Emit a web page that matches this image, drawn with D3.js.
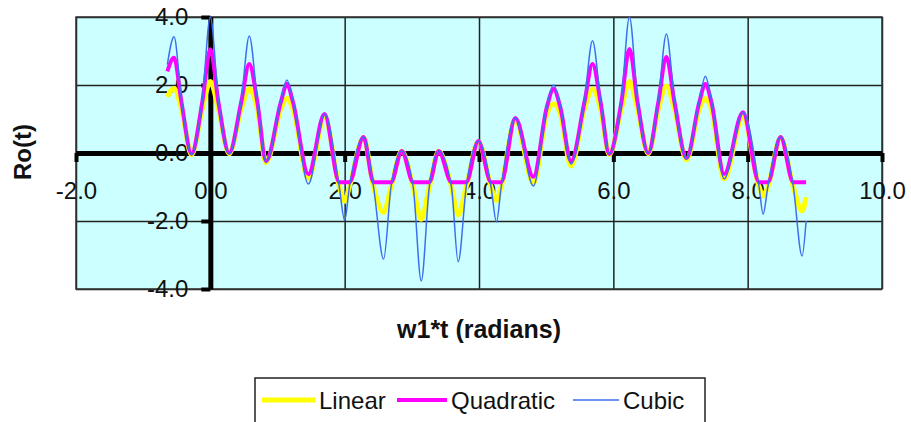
<!DOCTYPE html>
<html>
<head>
<meta charset="utf-8">
<script src="https://cdn.jsdelivr.net/npm/d3@7"></script>
<style>
  body { margin: 0; background: #fff; }
  svg text { font-family: "Liberation Sans", Arial, sans-serif; fill: #111; }
</style>
</head>
<body>
<div id="chart"></div>
<script>
// w1*t values (peaks, troughs and the points where the curves split)
const tVals = [-0.64, -0.54, -0.43, -0.28, -0.12, 0.00, 0.12, 0.28, 0.46, 0.58,
               0.70, 0.83, 1.05, 1.14, 1.23, 1.46, 1.70, 1.92, 2.00, 2.07,
               2.28, 2.43, 2.58, 2.69, 2.85, 3.02, 3.14, 3.26, 3.40, 3.59,
               3.69, 3.81, 3.99, 4.18, 4.26, 4.33, 4.54, 4.81, 5.01, 5.11,
               5.21, 5.37, 5.57, 5.69, 5.81, 5.94, 6.12, 6.24, 6.36, 6.52,
               6.67, 6.79, 6.91, 7.09, 7.28, 7.37, 7.46, 7.65, 7.93, 8.17,
               8.23, 8.30, 8.49, 8.68, 8.81, 8.87];

const linearVals = [1.65, 1.90, 1.30, -0.05, 1.30, 2.10, 1.30, -0.02, 1.30, 1.88,
                    1.30, -0.28, 1.30, 1.60, 1.30, -0.75, 1.05, -1.00, -1.42, -1.00,
                    0.45, -1.00, -1.75, -1.00, 0.05, -1.00, -1.95, -1.00, 0.05, -1.00,
                    -1.82, -1.00, 0.33, -1.00, -1.40, -1.00, 0.98, -0.90, 1.15, 1.44,
                    1.15, -0.38, 1.30, 1.88, 1.30, -0.05, 1.30, 2.10, 1.30, -0.02,
                    1.30, 1.97, 1.30, -0.20, 1.30, 1.60, 1.30, -0.76, 1.05, -1.00,
                    -1.26, -1.00, 0.45, -1.00, -1.70, -1.30];

const quadraticVals = [2.40, 2.80, 1.50, -0.02, 1.50, 3.05, 1.50, 0.00, 1.50, 2.62,
                       1.50, -0.24, 1.50, 2.03, 1.50, -0.62, 1.15, -0.86, -0.86, -0.86,
                       0.47, -0.86, -0.86, -0.86, 0.06, -0.86, -0.86, -0.86, 0.06, -0.86,
                       -0.86, -0.86, 0.35, -0.86, -0.86, -0.86, 1.03, -0.70, 1.35, 1.88,
                       1.35, -0.24, 1.50, 2.62, 1.50, -0.03, 1.50, 3.06, 1.50, 0.00,
                       1.50, 2.82, 1.50, -0.15, 1.50, 2.03, 1.50, -0.62, 1.20, -0.86,
                       -0.86, -0.86, 0.47, -0.86, -0.86, -0.86];

const cubicVals = [2.60, 3.42, 1.55, -0.05, 1.55, 4.00, 1.55, -0.02, 1.55, 3.44,
                   1.55, -0.28, 1.55, 2.15, 1.55, -0.91, 1.15, -1.00, -1.98, -1.00,
                   0.47, -1.00, -3.12, -1.00, 0.06, -1.00, -3.76, -1.00, 0.06, -1.00,
                   -3.20, -1.00, 0.35, -1.00, -2.03, -1.00, 1.03, -0.97, 1.40, 2.00,
                   1.40, -0.32, 1.55, 3.30, 1.55, -0.03, 1.55, 4.00, 1.55, 0.00,
                   1.55, 3.50, 1.55, -0.18, 1.55, 2.26, 1.55, -0.76, 1.20, -1.00,
                   -1.80, -1.00, 0.47, -1.00, -3.03, -2.00];

const seriesNames = ["Linear", "Quadratic", "Cubic"];
const xTicks = [-2, 0, 2, 4, 6, 8, 10];
const yTicks = [-4, -2, 0, 2, 4];

const W = 911, H = 422;
const plot = {left: 76, right: 882, top: 17, bottom: 289};
const fontSize = 24;
const colors = {Linear: "#ffff00", Quadratic: "#ff00ff", Cubic: "#3d6ef0"};
const widths = {Linear: 5, Quadratic: 4, Cubic: 1.5};

const svg = d3.select("#chart")
              .append("svg")
              .attr("width", W)
              .attr("height", H);

const xScale = d3.scaleLinear().domain([-2, 10]).range([plot.left, plot.right]);
const yScale = d3.scaleLinear().domain([-4, 4]).range([plot.bottom, plot.top]);

// Plot area
svg.append("rect")
   .attr("x", plot.left)
   .attr("y", plot.top)
   .attr("width", plot.right - plot.left)
   .attr("height", plot.bottom - plot.top)
   .attr("fill", "#ccffff");

// Grid
svg.append("g")
   .attr("transform", `translate(0, ${plot.bottom})`)
   .call(d3.axisBottom(xScale).tickValues(xTicks).tickSize(-(plot.bottom - plot.top)).tickFormat(""))
   .call(g => {
        g.select(".domain").remove();
        g.selectAll("line").attr("stroke", "#222").attr("stroke-width", 1.5);
   });

svg.append("g")
   .attr("transform", `translate(${plot.left}, 0)`)
   .call(d3.axisLeft(yScale).tickValues(yTicks).tickSize(-(plot.right - plot.left)).tickFormat(""))
   .call(g => {
        g.select(".domain").remove();
        g.selectAll("line").attr("stroke", "#222").attr("stroke-width", 1.5);
   });

svg.append("rect")
   .attr("x", plot.left)
   .attr("y", plot.top)
   .attr("width", plot.right - plot.left)
   .attr("height", plot.bottom - plot.top)
   .attr("fill", "none")
   .attr("stroke", "#333")
   .attr("stroke-width", 1.5);

// Axes crossing at zero
const fmt = d => d.toFixed(1);

svg.append("g")
   .attr("transform", `translate(0, ${yScale(0)})`)
   .call(d3.axisBottom(xScale).tickValues(xTicks).tickSize(9).tickSizeOuter(0).tickPadding(20).tickFormat(fmt))
   .call(g => {
        g.attr("font-size", fontSize).attr("font-family", null);
        g.select(".domain").attr("stroke", "#000").attr("stroke-width", 5);
        g.selectAll(".tick line").attr("stroke", "#000").attr("stroke-width", 4);
   });

svg.append("g")
   .attr("transform", `translate(${xScale(0)}, 0)`)
   .call(d3.axisLeft(yScale).tickValues(yTicks).tickSize(9).tickSizeOuter(0).tickPadding(13).tickFormat(fmt))
   .call(g => {
        g.attr("font-size", fontSize).attr("font-family", null);
        g.select(".domain").attr("stroke", "#000").attr("stroke-width", 5);
        g.selectAll(".tick line").attr("stroke", "#000").attr("stroke-width", 4);
   });

// Axis titles
svg.append("text")
   .attr("x", (plot.left + plot.right) / 2)
   .attr("y", 338)
   .attr("text-anchor", "middle")
   .attr("font-size", 25)
   .attr("font-weight", "bold")
   .text("w1*t (radians)");

svg.append("text")
   .attr("transform", "translate(31, 152) rotate(-90)")
   .attr("text-anchor", "middle")
   .attr("font-size", 24)
   .attr("font-weight", "bold")
   .text("Ro(t)");

// Lines
const seriesData = {Linear: linearVals, Quadratic: quadraticVals, Cubic: cubicVals};

const line = d3.line()
               .x((_, i) => xScale(tVals[i]))
               .y(d => yScale(d))
               .curve(d3.curveMonotoneX);

svg.append("g")
   .selectAll("path")
   .data(seriesNames)
   .join("path")
   .attr("fill", "none")
   .attr("stroke", d => colors[d])
   .attr("stroke-width", d => widths[d])
   .attr("stroke-linejoin", "round")
   .attr("d", d => line(seriesData[d]));

// Legend
const legend = svg.append("g");

legend.append("rect")
      .attr("x", 255)
      .attr("y", 378)
      .attr("width", 450)
      .attr("height", 60)
      .attr("fill", "#fff")
      .attr("stroke", "#222")
      .attr("stroke-width", 1.5);

const legendX = [262, 397, 573];
const legendLen = [53, 50, 46];

const item = legend.selectAll("g")
                   .data(seriesNames)
                   .join("g")
                   .attr("transform", (_, i) => `translate(${legendX[i]}, 400)`);

item.append("line")
    .attr("x1", 0)
    .attr("x2", (_, i) => legendLen[i])
    .attr("stroke", d => colors[d])
    .attr("stroke-width", d => widths[d]);

item.append("text")
    .attr("x", (_, i) => legendLen[i] + 4)
    .attr("y", 8.5)
    .attr("font-size", fontSize)
    .text(d => d);
</script>
</body>
</html>
